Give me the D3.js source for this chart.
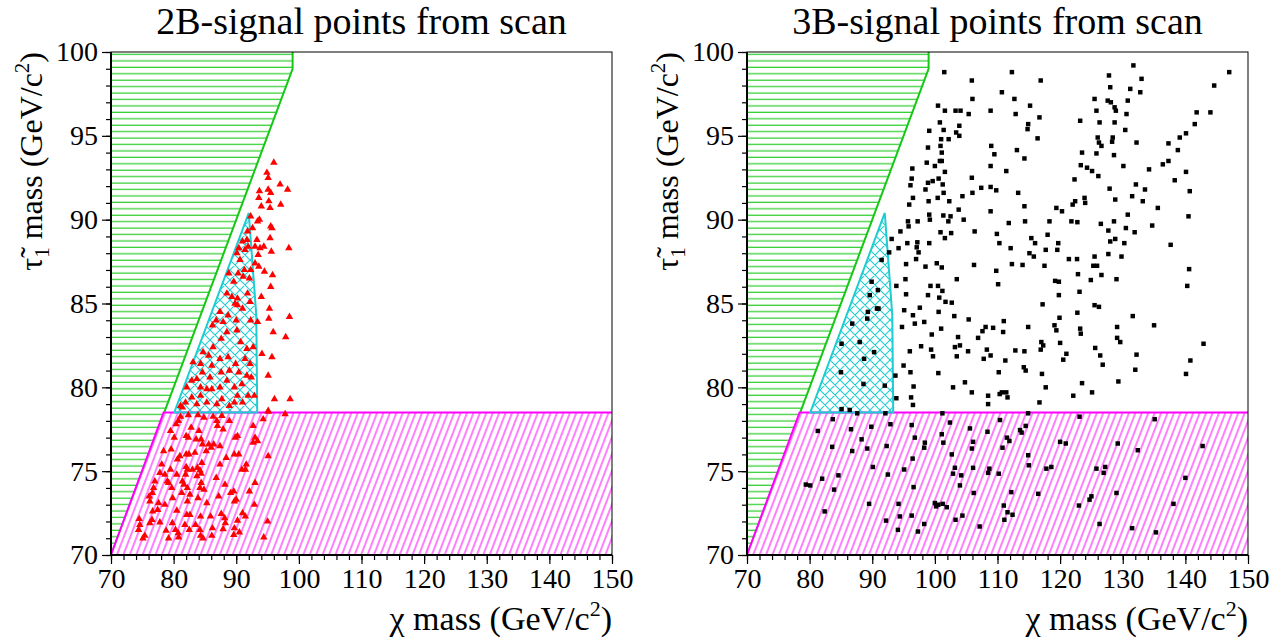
<!DOCTYPE html>
<html><head><meta charset="utf-8">
<script src="https://cdn.jsdelivr.net/npm/d3@7"></script>
<style>
body{margin:0;background:#fff}
text{font-family:"Liberation Serif","Times New Roman",serif;fill:#000}
</style></head>
<body><svg id="c" width="1283" height="641"></svg>
<script>
// ---------- data ----------
const xDomain = [70, 150];
const yDomain = [70, 100];
const xMajorTicks = [70, 80, 90, 100, 110, 120, 130, 140, 150];
const yMajorTicks = [70, 75, 80, 85, 90, 95, 100];
const titles = ["2B-signal points from scan", "3B-signal points from scan"];

// exclusion / allowed regions (chi mass, stau mass)
const greenRegion = [[70, 70], [99, 99], [99, 100], [70, 100]];
const magentaRegion = [[70, 70], [78.4, 78.5], [150, 78.5], [150, 70]];
const cyanRegion = [[80.1, 78.5], [92.0, 90.4], [93.2, 84.3], [93.35, 78.5]];

const points2B = [
[96.0,93.4],[94.9,92.8],[95.1,92.5],[97.0,92.1],[98.2,91.8],[93.7,91.7],[95.1,91.8],[95.5,91.6],[93.6,91.3],[95.2,91.1],[97.1,90.9],[94.0,90.8],[95.4,90.7],[92.3,90.2],[93.7,90.0],[93.4,89.9],[95.5,89.6],[95.7,89.5],[92.6,89.5],[91.8,89.3],[95.4,88.9],[93.3,88.8],[91.7,88.8],[91.0,88.7],[91.9,88.4],[93.0,88.4],[93.8,88.3],[94.4,88.4],[98.4,88.3],[90.4,88.3],[95.6,88.1],[93.5,87.9],[90.1,88.0],[91.4,88.2],[90.6,87.6],[93.0,87.4],[93.6,87.2],[92.3,87.0],[91.3,87.0],[94.5,86.9],[95.8,86.7],[88.8,86.8],[90.3,86.8],[91.1,86.6],[92.1,86.5],[89.6,86.3],[95.5,86.0],[91.8,85.6],[88.5,85.6],[89.3,85.4],[94.0,85.4],[90.2,85.3],[89.8,85.0],[90.2,84.9],[92.2,85.1],[95.3,84.7],[87.4,84.5],[88.7,84.3],[91.0,84.7],[95.2,84.1],[98.5,84.2],[92.3,84.0],[93.4,83.9],[86.8,84.0],[87.9,83.9],[90.0,84.0],[86.2,83.7],[90.1,83.4],[88.5,83.3],[95.9,83.3],[97.9,83.0],[87.6,82.9],[90.7,82.7],[92.7,82.4],[91.7,82.3],[86.3,82.4],[94.1,82.0],[95.7,81.8],[84.7,82.1],[85.6,81.9],[87.4,81.7],[88.7,81.8],[89.9,81.4],[91.4,81.7],[92.2,81.4],[84.3,81.4],[83.1,81.5],[86.1,81.3],[90.4,80.9],[91.7,80.7],[92.4,80.6],[88.9,81.0],[87.6,80.9],[95.1,80.7],[83.7,80.5],[82.9,80.4],[84.6,80.9],[85.8,80.6],[89.7,80.0],[87.4,80.0],[85.3,79.9],[86.1,79.9],[84.3,80.0],[82.1,80.0],[90.9,80.2],[88.5,80.4],[82.9,79.4],[84.3,79.5],[90.2,79.5],[91.9,79.5],[92.9,79.5],[87.7,79.3],[96.1,79.3],[98.6,79.3],[81.1,78.9],[81.9,79.1],[83.7,79.0],[85.3,79.1],[86.9,79.0],[89.7,79.1],[91.0,79.1],[88.9,78.9],[81.4,78.8],[95.1,78.6],
[95.1,78.55],[97.8,78.4],[94.3,78.1],[92.7,77.7],[81.1,78.25],[82.35,78.35],[83.9,78.35],[84.85,78.2],[86.3,78.25],[87.7,78.3],[88.9,78.0],[86.9,78.0],[87.0,77.7],[87.9,77.5],[80.75,78.0],[80.4,77.8],[79.5,77.4],[82.8,77.6],[84.05,77.4],[80.1,77.0],[82.0,77.1],[82.35,77.0],[83.6,76.9],[84.4,76.9],[84.6,76.6],[85.6,76.6],[86.4,76.6],[87.4,76.5],[86.0,76.4],[89.85,77.0],[90.2,77.1],[93.0,77.0],[92.7,76.7],[93.4,76.8],[78.4,76.2],[79.6,76.3],[82.0,76.0],[82.45,76.0],[85.2,76.2],[81.0,75.9],[80.6,75.7],[83.4,76.1],[88.4,75.8],[89.7,76.0],[90.4,76.0],[95.1,75.9],[78.1,75.4],[79.5,75.1],[82.0,75.25],[82.2,75.1],[83.0,75.1],[84.5,75.5],[83.8,75.2],[84.2,75.05],[87.4,75.4],[91.6,75.4],[91.45,75.1],[90.9,75.1],[77.8,74.9],[78.6,74.8],[80.5,74.8],[81.9,74.8],[83.7,74.7],[86.8,74.6],[84.4,74.85],[77.0,74.4],[79.0,74.4],[79.2,74.3],[81.4,74.4],[81.65,74.2],[84.4,74.3],[93.0,74.3],[88.2,74.2],[76.8,74.0],[79.7,74.0],[81.3,73.7],[82.2,74.0],[84.2,74.0],[84.85,73.9],[82.6,73.6],[89.6,73.8],[92.1,73.8],[76.6,73.7],[76.1,73.5],[79.85,73.4],[83.9,73.4],[87.2,73.5],[89.1,73.7],[90.0,73.3],[89.7,73.2],[76.2,73.2],[77.6,73.1],[78.6,73.0],[82.2,73.2],[85.3,73.1],[92.9,73.0],[77.45,72.7],[76.65,72.6],[80.5,72.65],[82.1,72.4],[82.6,72.4],[84.3,72.3],[85.9,72.3],[87.6,72.45],[88.15,72.2],[91.0,72.5],[91.45,72.3],[76.55,72.1],[77.8,71.95],[79.8,71.9],[81.8,71.8],[83.5,71.8],[88.25,71.9],[90.2,72.05],[74.5,72.15],[74.6,71.8],[95.0,72.0],[74.4,71.5],[76.2,71.9],[78.8,71.45],[80.3,71.5],[80.75,71.3],[82.5,71.5],[84.2,71.5],[86.2,71.6],[87.9,71.55],[89.7,71.6],[75.4,71.15],[75.1,71.0],[79.2,71.0],[80.8,71.05],[84.3,71.15],[84.7,71.0],[86.1,71.15],[89.6,71.2],[90.5,71.35],[94.4,71.05]
];

const points3B = [
[101.5,98.8],[112.3,98.8],[116.9,98.3],[105.9,98.3],[127.8,98.6],[131.7,99.2],[133.0,98.4],[147.0,98.8],[144.6,98.0],[110.7,97.6],[106.0,97.2],[112.7,97.2],[128.0,97.9],[131.2,97.8],[132.8,97.6],[125.5,97.2],[127.6,97.1],[128.1,97.0],[130.8,97.1],[100.5,96.8],[101.6,96.5],[103.3,96.5],[104.1,96.5],[105.4,96.3],[108.9,96.5],[112.9,96.3],[115.2,96.8],[116.7,96.1],[125.8,96.5],[128.7,96.7],[128.9,96.5],[130.6,96.3],[141.8,96.4],[144.0,96.4],[123.2,95.9],[126.3,95.8],[128.7,95.8],[114.9,95.7],[114.8,95.4],[100.8,95.8],[103.9,95.6],[99.1,95.3],[101.4,95.35],[103.4,95.2],[103.9,95.0],[102.2,94.8],[101.0,94.8],[130.4,95.35],[141.5,95.7],[140.1,95.15],[139.1,94.9],[137.3,94.55],[138.8,94.15],[116.4,94.85],[126.0,94.9],[128.4,94.9],[126.2,94.6],[126.6,94.4],[128.3,94.65],[132.2,94.6],[100.9,94.4],[98.9,94.3],[101.1,94.0],[109.0,94.4],[109.5,93.9],[113.1,94.15],[123.5,94.0],[125.8,93.95],[128.6,93.85],[114.3,93.65],[100.8,93.5],[101.1,93.5],[98.7,93.4],[100.0,93.2],[108.9,93.2],[123.3,93.25],[124.3,93.1],[125.1,92.9],[126.1,92.6],[130.1,93.2],[136.4,93.3],[137.3,93.5],[134.2,93.0],[140.1,92.85],[96.4,93.05],[101.6,92.85],[111.4,92.9],[96.3,92.45],[96.1,92.05],[98.9,92.2],[99.65,92.3],[100.6,92.45],[101.25,92.1],[98.5,91.8],[101.4,91.6],[105.9,92.5],[107.4,91.9],[108.9,91.95],[109.8,91.75],[113.3,91.6],[122.3,92.4],[127.9,91.85],[132.1,92.1],[133.55,91.8],[138.3,92.35],[140.7,91.7],[96.5,91.3],[95.9,90.9],[99.0,91.1],[100.45,91.3],[102.3,91.1],[104.4,91.4],[106.0,91.6],[103.8,90.6],[114.3,90.8],[108.9,90.5],[119.4,90.7],[120.3,90.5],[122.4,91.1],[122.0,90.9],[123.9,91.3],[124.0,91.0],[128.8,91.2],[131.5,91.4],[133.2,91.1],[135.6,90.7],[95.7,89.9],[95.8,89.6],[97.25,89.9],[99.1,90.3],[99.2,90.0],[101.35,90.25],[102.5,90.2],[102.15,89.9],[104.6,90.0],[111.8,89.8],[114.4,89.9],[118.3,89.9],[121.8,89.9],[122.75,89.85],[126.5,89.75],[128.6,89.9],[130.8,90.3],[130.5,89.5],[131.9,89.25],[134.7,89.65],[140.5,90.2],[94.5,89.3],[93.1,88.85],[94.2,88.3],[92.7,88.05],[95.6,88.6],[97.2,88.65],[97.1,88.35],[97.4,88.05],[99.1,88.6],[100.9,89.25],[101.6,88.9],[102.6,89.2],[106.35,89.3],[109.9,89.15],[110.3,88.6],[115.4,88.9],[116.0,88.6],[118.0,89.1],[117.7,88.2],[119.7,88.6],[119.55,88.2],[112.1,88.3],[115.1,88.0],[115.8,87.8],[127.7,89.35],[128.0,88.7],[128.8,88.85],[130.25,88.6],[137.65,88.5],[97.0,87.65],[95.4,87.35],[98.5,87.2],[100.3,87.4],[101.1,87.15],[106.25,87.3],[109.8,86.95],[112.3,87.35],[114.0,87.3],[117.5,87.25],[121.4,87.65],[122.7,87.65],[125.5,87.8],[125.3,87.25],[125.9,87.25],[127.7,87.95],[129.8,87.8],[122.85,86.75],[124.9,86.4],[126.6,86.7],[129.0,86.45],[140.6,87.05],[91.5,87.6],[93.85,86.05],[95.3,86.45],[95.4,85.55],[97.6,84.75],[99.3,86.05],[100.5,86.05],[101.2,85.75],[100.7,85.35],[101.7,85.1],[102.7,85.05],[103.5,86.45],[98.9,85.5],[110.1,86.15],[119.2,86.35],[119.8,86.3],[119.8,85.5],[117.2,84.95],[123.1,85.7],[125.5,84.9],[126.2,84.8],[140.3,86.05],[95.1,84.6],[96.5,84.3],[96.8,83.8],[98.3,83.9],[94.75,83.6],[99.5,83.15],[100.6,84.5],[101.0,83.5],[103.1,84.25],[105.4,84.05],[103.7,83.0],[107.6,83.35],[108.1,83.6],[106.9,82.95],[109.3,83.55],[111.0,83.95],[110.9,83.3],[114.9,83.6],[119.1,83.7],[119.4,83.4],[119.9,84.15],[122.75,84.45],[123.2,83.5],[123.3,83.2],[129.1,83.6],[129.1,82.95],[129.6,82.7],[131.6,84.25],[135.0,83.7],[142.9,82.6],[96.0,82.15],[97.8,82.45],[99.4,82.25],[99.7,81.85],[103.2,82.4],[104.0,82.5],[103.5,81.85],[105.3,82.15],[108.3,82.25],[107.8,81.7],[108.9,81.9],[111.25,81.6],[112.85,82.2],[114.3,82.15],[117.0,82.7],[117.3,82.5],[116.9,82.25],[120.0,82.65],[121.0,82.0],[120.5,81.65],[125.6,82.35],[126.4,81.9],[126.8,81.35],[132.2,81.95],[140.8,81.6],[95.0,81.3],[96.1,80.9],[93.7,80.7],[100.55,80.85],[110.2,80.9],[114.2,81.2],[114.5,81.0],[117.1,80.8],[132.0,81.05],[140.1,80.8],[92.0,80.1],[96.6,80.05],[102.9,80.0],[104.8,80.3],[105.9,79.7],[110.35,79.6],[110.7,79.7],[111.4,79.7],[111.6,79.4],[108.5,79.5],[117.7,80.0],[123.5,80.25],[122.1,79.5],[125.1,79.7],[129.3,80.35],[93.85,79.35],[96.2,79.4],[96.5,78.95],[108.5,79.0],[116.7,79.1],
[89.9,86.3],[90.9,85.8],[89.6,85.5],[90.75,84.7],[91.0,84.7],[89.3,84.5],[89.2,84.1],[86.8,83.8],[85.1,82.6],[88.0,82.7],[90.3,82.1],[88.7,81.7],[85.0,80.9],[88.6,80.2],[85.1,78.7],[86.4,78.65],
[83.7,78.1],[87.6,78.45],[92.1,78.45],[101.2,78.45],[114.9,78.45],[123.1,78.25],[135.1,78.1],[81.3,77.4],[86.6,77.5],[89.85,77.65],[92.9,77.8],[96.3,77.75],[102.4,77.9],[105.6,77.55],[108.4,77.35],[110.4,78.05],[114.5,77.7],[113.6,77.45],[113.85,77.3],[83.6,76.45],[86.8,76.2],[88.3,76.9],[89.2,76.35],[92.3,76.5],[96.8,77.0],[98.4,76.7],[98.3,76.4],[101.1,77.2],[101.35,76.7],[106.1,76.75],[105.9,76.35],[111.5,77.0],[111.9,76.8],[110.8,76.4],[120.0,76.75],[120.9,76.65],[129.2,76.65],[132.4,76.25],[142.75,76.5],[96.45,75.75],[102.7,76.0],[114.9,75.95],[90.1,75.25],[95.1,75.1],[92.5,74.8],[103.2,75.2],[106.1,75.2],[108.7,75.15],[108.5,74.9],[110.2,74.85],[102.9,74.85],[104.2,74.75],[115.0,75.35],[117.8,75.15],[118.6,75.25],[125.8,75.15],[127.2,75.25],[126.95,74.9],[79.4,74.2],[80.1,74.15],[82.0,74.55],[84.6,74.75],[83.9,73.9],[96.6,74.05],[104.0,74.15],[106.2,73.7],[112.2,73.75],[116.5,73.65],[125.0,73.5],[124.7,73.3],[129.0,73.7],[140.0,74.6],[82.4,72.6],[89.5,73.05],[94.2,73.05],[94.4,72.3],[96.3,72.35],[92.2,72.05],[98.3,71.85],[94.1,71.5],[97.3,71.4],[100.0,73.1],[100.2,72.9],[100.55,73.0],[101.25,73.05],[101.9,72.85],[103.3,72.1],[104.4,72.35],[107.15,71.7],[111.0,72.95],[111.6,72.55],[112.4,72.4],[111.1,72.1],[123.0,72.95],[126.3,71.85],[131.5,71.6],[135.3,71.35],[138.1,73.05]
];

// ---------- drawing ----------
const svg = d3.select("#c");
const plotTop = 52, plotBottom = 555, plotWidth = 501;
const panelLeft = [111, 747];

const GREEN = "rgb(20,200,20)", MAGENTA = "#ff00ff", CYAN = "rgb(30,205,210)";

const defs = svg.append("defs");
const pg = defs.append("pattern").attr("id", "hatchGreen").attr("patternUnits", "userSpaceOnUse")
  .attr("width", 20).attr("height", 6.43);
pg.append("line").attr("x1", 0).attr("x2", 20).attr("y1", 3).attr("y2", 3)
  .attr("stroke", GREEN).attr("stroke-width", 1.1);
const pm = defs.append("pattern").attr("id", "hatchMag").attr("patternUnits", "userSpaceOnUse")
  .attr("width", 6.0).attr("height", 20).attr("patternTransform", "rotate(21)");
pm.append("line").attr("x1", 2).attr("x2", 2).attr("y1", 0).attr("y2", 20)
  .attr("stroke", MAGENTA).attr("stroke-width", 1);
const pc = defs.append("pattern").attr("id", "hatchCyan").attr("patternUnits", "userSpaceOnUse")
  .attr("width", 10).attr("height", 10);
pc.append("path").attr("d", "M0,0L10,10M10,0L0,10M-1,9L1,11M9,-1L11,1M-1,1L1,-1M9,11L11,9")
  .attr("stroke", CYAN).attr("stroke-width", 1.1).attr("fill", "none");

panelLeft.forEach((left, i) => {
  const x = d3.scaleLinear().domain(xDomain).range([left, left + plotWidth]);
  const y = d3.scaleLinear().domain(yDomain).range([plotBottom, plotTop]);
  const g = svg.append("g");
  const line = d3.line().x(d => x(d[0])).y(d => y(d[1]));

  g.append("path").attr("d", line(greenRegion) + "Z").attr("fill", "url(#hatchGreen)");
  g.append("path").attr("d", line(greenRegion.slice(0, 3)))
    .attr("fill", "none").attr("stroke", GREEN).attr("stroke-width", 2);
  g.append("path").attr("d", line(magentaRegion) + "Z").attr("fill", "#fff");
  g.append("path").attr("d", line(magentaRegion) + "Z").attr("fill", "url(#hatchMag)");
  g.append("path").attr("d", line(magentaRegion.slice(0, 3)))
    .attr("fill", "none").attr("stroke", MAGENTA).attr("stroke-width", 2);
  g.append("path").attr("d", line(cyanRegion) + "Z").attr("fill", "url(#hatchCyan)")
    .attr("stroke", CYAN).attr("stroke-width", 2);

  const pts = i === 0 ? points2B : points3B;
  const sym = i === 0 ? d3.symbol(d3.symbolTriangle, 24) : d3.symbol(d3.symbolSquare, 20);
  g.append("g").selectAll("path").data(pts).join("path")
    .attr("transform", d => `translate(${x(d[0])},${y(d[1])})`)
    .attr("d", sym)
    .attr("fill", i === 0 ? "#ff0000" : "#000");

  g.append("rect").attr("x", left).attr("y", plotTop).attr("width", plotWidth)
    .attr("height", plotBottom - plotTop).attr("fill", "none").attr("stroke", "#000").attr("stroke-width", 1);

  const xMinor = d3.range(70, 150.001, 2);
  const yMinor = d3.range(70, 100.001, 1);
  const ax = g.append("g").attr("transform", `translate(0,${plotBottom})`);
  ax.call(d3.axisBottom(x).tickValues(xMinor).tickSize(5).tickFormat(""));
  ax.select(".domain").remove();
  const ax2 = g.append("g").attr("transform", `translate(0,${plotBottom})`);
  ax2.call(d3.axisBottom(x).tickValues(xMajorTicks).tickSize(9).tickPadding(2).tickFormat(d3.format("d")));
  ax2.select(".domain").remove();
  ax2.selectAll("text").attr("font-size", 28).attr("font-family", "Liberation Serif").attr("dy", "0.78em");

  const ay = g.append("g").attr("transform", `translate(${left},0)`);
  ay.call(d3.axisLeft(y).tickValues(yMinor).tickSize(5).tickFormat(""));
  ay.select(".domain").remove();
  const ay2 = g.append("g").attr("transform", `translate(${left},0)`);
  ay2.call(d3.axisLeft(y).tickValues(yMajorTicks).tickSize(9).tickPadding(4).tickFormat(d3.format("d")));
  ay2.select(".domain").remove();
  ay2.selectAll("text").attr("font-size", 28).attr("font-family", "Liberation Serif");
  g.selectAll(".tick line").attr("stroke", "#000").attr("stroke-width", 1.2);

  g.append("line").attr("x1", left).attr("x2", left).attr("y1", plotTop).attr("y2", plotBottom + 0.5)
    .attr("stroke", "#000").attr("stroke-width", 2);
  g.append("line").attr("x1", left).attr("x2", left + plotWidth).attr("y1", plotBottom).attr("y2", plotBottom)
    .attr("stroke", "#000").attr("stroke-width", 2);

  g.append("text").attr("x", left + plotWidth / 2).attr("y", 34).attr("text-anchor", "middle")
    .attr("font-size", 38).text(titles[i]);

  const xl = g.append("text").attr("x", left + plotWidth).attr("y", 630).attr("text-anchor", "end")
    .attr("font-size", 34);
  xl.append("tspan").text("χ mass (GeV/c");
  xl.append("tspan").attr("font-size", 22).attr("dy", -14).text("2");
  xl.append("tspan").attr("dy", 14).text(")");

  const yl = g.append("text").attr("transform", `translate(${left - 69},${plotTop}) rotate(-90)`)
    .attr("text-anchor", "end").attr("font-size", 32);
  yl.append("tspan").text("τ\u0303");
  yl.append("tspan").attr("font-size", 21).attr("dy", 7).text("1");
  yl.append("tspan").attr("dy", -7).text(" mass (GeV/c");
  yl.append("tspan").attr("font-size", 21).attr("dy", -13).text("2");
  yl.append("tspan").attr("dy", 13).text(")");
});
</script></body></html>
